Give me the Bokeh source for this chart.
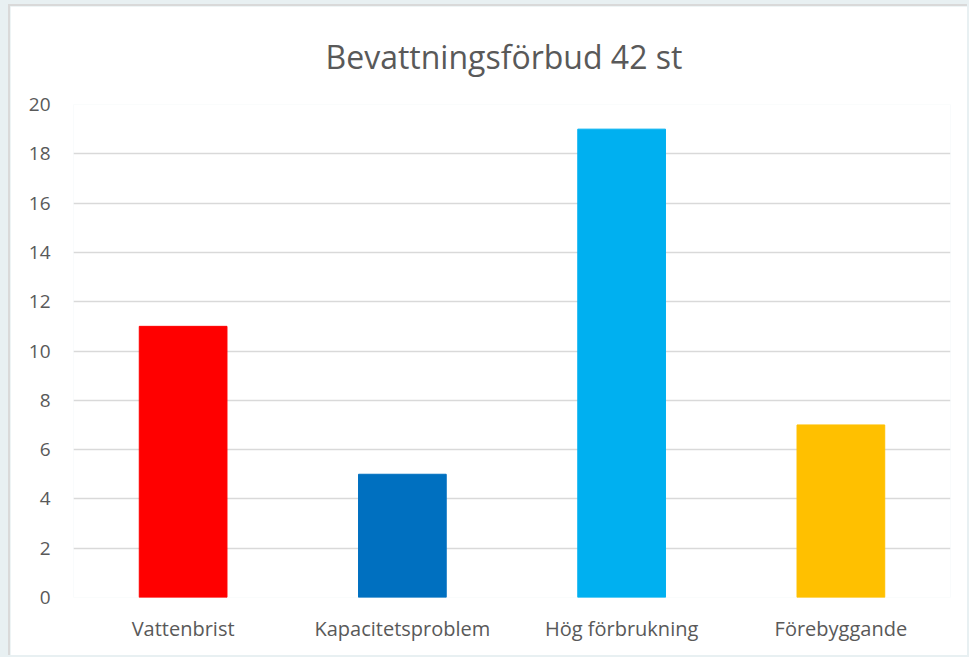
from bokeh.plotting import figure
from bokeh.models import ColumnDataSource, Range1d, FixedTicker, Title
from bokeh.embed import file_html
from bokeh.resources import INLINE

categories = ["Vattenbrist", "Kapacitetsproblem", "Hög förbrukning", "Förebyggande"]
values = [11, 5, 19, 7]
colors = ["#FF0000", "#0070C0", "#00B0F0", "#FFC000"]
y_ticks = [0, 2, 4, 6, 8, 10, 12, 14, 16, 18, 20]
title_text = "Bevattningsförbud 42 st"

FONT = "Open Sans"
GRAY = "#595959"

source = ColumnDataSource(dict(cat=categories, val=values, color=colors))

p = figure(x_range=categories, y_range=Range1d(0, 20), width=959, height=651,
           output_backend="svg", toolbar_location=None,
           min_border_left=63, min_border_right=19, min_border_top=98, min_border_bottom=60)
p.title = None
t = Title(text=title_text, align="left", text_font=FONT, text_font_size="32px",
          text_color=GRAY, text_font_style="normal", standoff=53, offset=252)
p.add_layout(t, "above")

p.vbar(x="cat", top="val", width=0.4, color="color", source=source)

p.outline_line_color = None
p.background_fill_color = "white"
p.border_fill_color = "white"

p.xgrid.grid_line_color = None
p.ygrid.grid_line_color = "#D9D9D9"
p.ygrid.grid_line_width = 1.5
p.yaxis.ticker = FixedTicker(ticks=y_ticks)

for ax in (p.xaxis, p.yaxis):
    ax.axis_line_color = None
    ax.major_tick_line_color = None
    ax.minor_tick_line_color = None
    ax.major_label_text_font = FONT
    ax.major_label_text_color = GRAY
p.yaxis.major_label_text_font_size = "19px"
p.xaxis.major_label_text_font_size = "20px"
p.yaxis.major_label_standoff = 17
p.xaxis.major_label_standoff = 11

p.styles = {"margin-left": "8px", "margin-top": "4px",
            "border-left": "2px solid #D9D9D9", "border-top": "2px solid #D9D9D9"}

html = file_html(p, INLINE)
html = html.replace("<body>", '<body style="background:#E8F0F2;overflow:hidden">')
open("out.html", "w").write(html)
